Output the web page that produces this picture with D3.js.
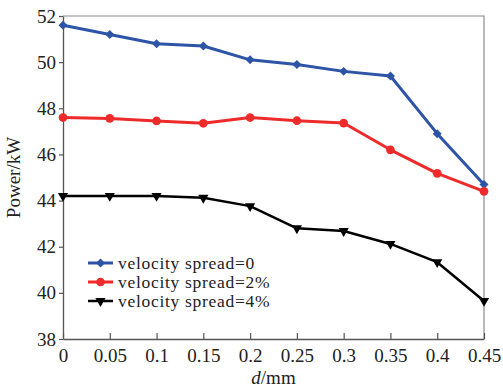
<!DOCTYPE html>
<html>
<head>
<meta charset="utf-8">
<script src="https://cdn.jsdelivr.net/npm/d3@7"></script>
<style>
  body { margin: 0; background: #fff; }
</style>
</head>
<body>
<div id="chart"></div>
<script>
const dValues = [0, 0.05, 0.1, 0.15, 0.2, 0.25, 0.3, 0.35, 0.4, 0.45];
const xTickLabels = ["0", "0.05", "0.1", "0.15", "0.2", "0.25", "0.3", "0.35", "0.4", "0.45"];
const yTicks = [38, 40, 42, 44, 46, 48, 50, 52];

const spread0 = [51.6, 51.2, 50.8, 50.7, 50.1, 49.9, 49.6, 49.4, 46.9, 44.7];
const spread2 = [47.6, 47.56, 47.45, 47.35, 47.6, 47.46, 47.36, 46.2, 45.18, 44.4];
const spread4 = [44.2, 44.2, 44.2, 44.12, 43.76, 42.8, 42.68, 42.12, 41.33, 39.65];

const seriesNames = ["velocity spread=0", "velocity spread=2%", "velocity spread=4%"];

const width = 503, height = 388;
const margin = { top: 16, right: 19, bottom: 49, left: 63 };
const serif = "Liberation Serif";

const series = [
  { name: seriesNames[0], values: spread0, color: "#2d54a6", symbol: d3.symbolSquare, size: 40, rot: 45, sw: 3 },
  { name: seriesNames[1], values: spread2, color: "#ee2b2b", symbol: d3.symbolCircle, size: 60, rot: 0, sw: 3 },
  { name: seriesNames[2], values: spread4, color: "#000000", symbol: d3.symbolTriangle, size: 45, rot: 180, sw: 2.5 }
];

const x = d3.scaleLinear()
  .domain([0, 0.45])
  .range([margin.left, width - margin.right]);

const y = d3.scaleLinear()
  .domain([38, 52])
  .range([height - margin.bottom, margin.top]);

const svg = d3.select("#chart")
  .append("svg")
  .attr("width", width)
  .attr("height", height)
  .style("font-family", serif);

// frame top/right
svg.append("path")
  .attr("d", `M${x(0)},${y(52)}H${x(0.45)}V${y(38)}`)
  .attr("fill", "none")
  .attr("stroke", "#8a8a8a")
  .attr("stroke-width", 1.2);

const xAxis = d3.axisBottom(x)
  .tickValues(dValues)
  .tickFormat((d, i) => xTickLabels[i])
  .tickSizeInner(-6)
  .tickSizeOuter(0)
  .tickPadding(10);

const yAxis = d3.axisLeft(y)
  .tickValues(yTicks)
  .tickSizeInner(4)
  .tickSizeOuter(0)
  .tickPadding(3);

const gx = svg.append("g")
  .attr("transform", `translate(0,${y(38)})`)
  .call(xAxis);

const gy = svg.append("g")
  .attr("transform", `translate(${x(0)},0)`)
  .call(yAxis);

[gx, gy].forEach(g => {
  g.attr("font-family", null).attr("font-size", 19);
  g.select(".domain").attr("stroke", "#555").attr("stroke-width", 1.3);
  g.selectAll(".tick line").attr("stroke", "#555").attr("stroke-width", 1.2);
  g.selectAll(".tick text").attr("fill", "#222");
});

const line = d3.line()
  .x((d, i) => x(dValues[i]))
  .y(d => y(d));

series.forEach(s => {
  svg.append("path")
    .datum(s.values)
    .attr("fill", "none")
    .attr("stroke", s.color)
    .attr("stroke-width", s.sw)
    .attr("stroke-linejoin", "round")
    .attr("d", line);

  svg.append("g")
    .selectAll("path")
    .data(s.values)
    .join("path")
    .attr("d", d3.symbol().type(s.symbol).size(s.size))
    .attr("transform", (d, i) => `translate(${x(dValues[i])},${y(d)}) rotate(${s.rot})`)
    .attr("fill", s.color);
});

// legend
const legend = svg.append("g").attr("transform", "translate(88,263)");
series.forEach((s, i) => {
  const row = legend.append("g").attr("transform", `translate(0,${i * 19})`);
  row.append("line")
    .attr("x1", 0).attr("x2", 25)
    .attr("stroke", s.color)
    .attr("stroke-width", s.sw);
  row.append("path")
    .attr("d", d3.symbol().type(s.symbol).size(s.size))
    .attr("transform", `translate(12.5,0) rotate(${s.rot})`)
    .attr("fill", s.color);
  row.append("text")
    .attr("x", 30)
    .attr("y", 0)
    .attr("dy", "0.33em")
    .attr("fill", "#222")
    .attr("font-size", 17.5)
    .attr("letter-spacing", 0.7)
    .text(s.name);
});

// axis titles
svg.append("text")
  .attr("transform", `translate(20,${(y(38) + y(52)) / 2}) rotate(-90)`)
  .attr("text-anchor", "middle")
  .attr("fill", "#222")
  .attr("font-size", 19)
  .text("Power/kW");

const xt = svg.append("text")
  .attr("x", (x(0) + x(0.45)) / 2)
  .attr("y", 384)
  .attr("text-anchor", "middle")
  .attr("fill", "#222")
  .attr("font-size", 19);
xt.append("tspan").attr("font-style", "italic").text("d");
xt.append("tspan").text("/mm");
</script>
</body>
</html>
